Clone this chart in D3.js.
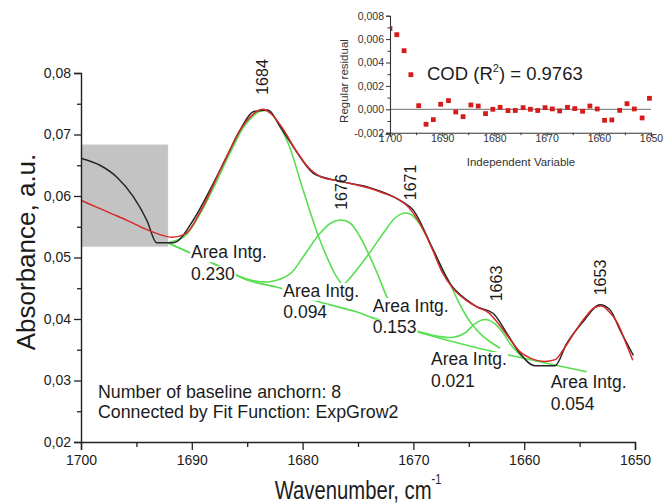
<!DOCTYPE html>
<html><head><meta charset="utf-8">
<script src="https://cdn.jsdelivr.net/npm/d3@7/dist/d3.min.js"></script>
<style>
body{margin:0;background:#fff;}
svg{display:block;font-family:"Liberation Sans",Arial,sans-serif;}
</style></head><body>
<svg id="chart" width="665" height="504"></svg>
<script>
// ---------- DATA ----------
// measured spectrum (black)
const measuredWn  = [1699.94,1698.29,1696.78,1695.28,1694.07,1693.17,1691.67,1689.86,1688.36,1686.85,1685.65,1684.45,1683.12,1682.04,1680.84,1679.03,1676.92,1674.21,1671.21,1670.01,1668.20,1666.70,1665.19,1664.29,1662.79,1661.58,1660.38,1659.03,1657.22,1656.17,1654.67,1653.16,1652.26,1651.35,1650.15];
const measuredAbs = [0.0661,0.0650,0.0631,0.0599,0.0561,0.0524,0.0524,0.0561,0.0610,0.0664,0.0707,0.0737,0.0740,0.0713,0.0680,0.0637,0.0625,0.0615,0.0593,0.0577,0.0512,0.0458,0.0431,0.0420,0.0409,0.0377,0.0344,0.0324,0.0324,0.0360,0.0396,0.0423,0.0415,0.0382,0.0341];
// cumulative fit (red)
const fitWn  = [1700.0,1698.6,1697.2,1695.8,1694.4,1693.0,1691.8,1690.6,1689.3,1688.0,1686.8,1685.6,1684.4,1683.6,1682.8,1681.8,1680.6,1679.4,1678.2,1676.8,1675.4,1674.0,1672.6,1671.4,1670.4,1669.4,1668.4,1667.4,1666.4,1665.2,1664.2,1663.2,1662.4,1661.4,1660.4,1659.4,1658.2,1657.2,1656.4,1655.4,1654.4,1653.6,1653.0,1652.4,1651.6,1650.8,1650.2];
const fitAbs = [0.0593,0.0582,0.0571,0.0560,0.0548,0.0538,0.0533,0.0538,0.0572,0.0620,0.0666,0.0708,0.0734,0.0741,0.0733,0.0710,0.0674,0.0645,0.0630,0.0625,0.0619,0.0613,0.0604,0.0595,0.0581,0.0555,0.0518,0.0476,0.0449,0.0430,0.0419,0.0410,0.0394,0.0370,0.0347,0.0336,0.0331,0.0334,0.0352,0.0380,0.0405,0.0419,0.0421,0.0413,0.0394,0.0360,0.0333];
// baseline (green)
const baselineWn  = [1692.15,1688.20,1685.02,1682.04,1679.06,1674.82,1673.92,1669.70,1663.84,1660.98,1654.36];
const baselineAbs = [0.05236,0.04915,0.04634,0.04504,0.04309,0.04098,0.04033,0.03793,0.03512,0.03398,0.03143];
// fitted component peaks (green)
const comp1684Wn  = [1692.15,1690.61,1689.26,1687.91,1686.55,1685.20,1683.84,1682.94,1681.43,1679.96,1678.43,1676.92,1676.02,1675.45];
const comp1684Abs = [0.05236,0.0535,0.0571,0.0618,0.0670,0.0715,0.0738,0.0736,0.0691,0.0610,0.0528,0.0468,0.0447,0.0440];
const comp1676Wn  = [1692.15,1688.20,1685.02,1682.94,1681.14,1679.94,1678.43,1677.44,1676.62,1675.72,1674.82,1674.21,1673.31,1672.41,1672.11];
const comp1676Abs = [0.05236,0.04915,0.04650,0.04606,0.04732,0.05013,0.05393,0.05561,0.05610,0.05561,0.05338,0.05122,0.04764,0.04363,0.04260];
const comp1671Wn  = [1679.06,1677.08,1675.88,1674.21,1672.72,1671.66,1670.91,1670.31,1669.70,1668.95,1668.20,1667.51,1666.70,1665.97,1665.19,1664.44,1663.69,1662.91,1662.18];
const comp1671Abs = [0.04309,0.04423,0.04634,0.05013,0.05393,0.05642,0.05719,0.05707,0.05610,0.05398,0.05122,0.04846,0.04580,0.04293,0.04037,0.03854,0.03712,0.03610,0.03524];
const comp1663Wn  = [1673.92,1669.70,1667.60,1666.40,1665.34,1664.59,1663.81,1663.24,1662.64,1661.91,1661.19,1660.20];
const comp1663Abs = [0.04033,0.03805,0.03715,0.03702,0.03772,0.03902,0.03984,0.03984,0.03919,0.03772,0.03577,0.03385];
// masked (excluded) region
const maskWn  = [1700, 1692.15];
const maskAbs = [0.05176, 0.06834];
// peak labels
const peakNames  = ["1684","1676","1671","1663","1653"];
const peakLabelWn  = [1683.12,1675.99,1669.77,1662.00,1652.62];
const peakLabelAbs = [0.07935,0.06065,0.06220,0.04577,0.04675];
// integrated areas
const areaTitle  = "Area Intg.";
const areaValues = ["0.230","0.094","0.153","0.021","0.054"];
const areaLabelWn  = [1690.07,1681.74,1673.67,1668.41,1657.61];
const areaLabelAbs = [0.04987,0.04363,0.04119,0.03244,0.02873];
// notes
const notes = ["Number of baseline anchorn: 8","Connected by Fit Function: ExpGrow2"];
// residuals (inset)
const residWn  = [1700.0,1698.7,1697.3,1696.0,1694.5,1693.1,1691.7,1690.3,1688.8,1687.4,1686.0,1684.5,1683.1,1681.7,1680.3,1678.9,1677.4,1676.0,1674.5,1673.1,1671.7,1670.3,1668.9,1667.5,1666.0,1664.6,1663.1,1661.7,1660.3,1658.9,1657.5,1656.0,1654.6,1653.2,1651.7,1650.3];
const residVal = [0.0069,0.00638,0.00501,0.00296,0.00031,-0.00128,-0.00088,0.00043,0.00074,-0.00023,-0.00063,0.00037,0.00028,-0.00037,0.0,0.00017,-0.00011,-0.00010,0.00014,0.0,-0.00010,0.00014,0.00003,-0.00014,0.00017,0.00006,-0.00017,0.00028,0.00003,-0.00094,-0.00091,-0.00009,0.00048,0.00003,-0.00074,0.00094];
const codText = "0.9763";
// ticks
const xTicks = [1700,1690,1680,1670,1660,1650];
const xMinor = [1695,1685,1675,1665,1655];
const yTicks = [0.02,0.03,0.04,0.05,0.06,0.07,0.08];
const yMinor = [0.025,0.035,0.045,0.055,0.065,0.075];
const insetYTicks = [-0.002,0,0.002,0.004,0.006,0.008];
const insetYMinor = [-0.001,0.001,0.003,0.005,0.007];

// ---------- DRAW ----------
const svg = d3.select("#chart");
const TXT = "#1c1c1c";
const x = d3.scaleLinear().domain([1700,1650]).range([81,635]);
const y = d3.scaleLinear().domain([0.02,0.08]).range([442,73]);
const pts = (a,b)=>a.map((v,i)=>[v,b[i]]);
const lineMono = d3.line().x(d=>x(d[0])).y(d=>y(d[1])).curve(d3.curveMonotoneX);
const lineSm  = d3.line().x(d=>x(d[0])).y(d=>y(d[1])).curve(d3.curveCatmullRom.alpha(0.5));

// masked region
svg.append("rect")
  .attr("x",x(maskWn[0])).attr("y",y(maskAbs[1]))
  .attr("width",x(maskWn[1])-x(maskWn[0])).attr("height",y(maskAbs[0])-y(maskAbs[1]))
  .attr("fill","#c3c3c3").attr("stroke","#d6d6d6").attr("stroke-dasharray","1,1");

// green components + baseline
const GREEN = "#58de50";
[pts(baselineWn,baselineAbs),pts(comp1684Wn,comp1684Abs),pts(comp1676Wn,comp1676Abs),
 pts(comp1671Wn,comp1671Abs),pts(comp1663Wn,comp1663Abs)].forEach(p=>{
  svg.append("path").attr("d",lineSm(p)).attr("fill","none")
    .attr("stroke",GREEN).attr("stroke-width",1.6);
});

// area labels (with white background)
areaValues.forEach((v,i)=>{
  const g = svg.append("g");
  const px = x(areaLabelWn[i]), py = y(areaLabelAbs[i]);
  [[areaTitle,py],[v,py+21.5]].forEach(([s,yy])=>{
    const t = g.append("text").attr("x",px).attr("y",yy).attr("font-size",17.5).attr("fill",TXT).text(s);
    const w = t.node().getComputedTextLength();
    g.insert("rect","text").attr("x",px-1).attr("y",yy-13.5).attr("width",w+2).attr("height",17.5).attr("fill","#fff");
  });
});

// measured + fit
svg.append("path").attr("d",lineMono(pts(measuredWn,measuredAbs))).attr("fill","none")
  .attr("stroke","#262626").attr("stroke-width",1.5).attr("stroke-linejoin","round");
svg.append("path").attr("d",lineMono(pts(fitWn,fitAbs)))
  .attr("fill","none").attr("stroke","#d42a2a").attr("stroke-width",1.5);

// peak labels
peakNames.forEach((n,i)=>{
  svg.append("text").attr("transform",`translate(${x(peakLabelWn[i])},${y(peakLabelAbs[i])}) rotate(-90)`)
    .attr("text-anchor","middle").attr("font-size",16).attr("fill",TXT).text(n);
});

// notes
notes.forEach((s,i)=>{
  svg.append("text").attr("x",98).attr("y",398+i*20).attr("font-size",17.8).attr("fill",TXT).text(s);
});

// axes
const fmtComma = v => (v<0?"-":"") + Math.abs(v).toFixed(2).replace(".",",");
const gx = svg.append("g").attr("transform","translate(0,442)")
  .call(d3.axisBottom(x).tickValues(xTicks).tickSize(8).tickPadding(5).tickFormat(d3.format("d")));
svg.append("g").attr("transform","translate(0,442)")
  .call(d3.axisBottom(x).tickValues(xMinor).tickSize(5).tickFormat("")).select(".domain").remove();
const gy = svg.append("g").attr("transform","translate(81,0)")
  .call(d3.axisLeft(y).tickValues(yTicks).tickSize(7).tickPadding(3).tickFormat(fmtComma));
svg.append("g").attr("transform","translate(81,0)")
  .call(d3.axisLeft(y).tickValues(yMinor).tickSize(4).tickFormat("")).select(".domain").remove();
svg.selectAll(".domain").attr("stroke","#222").attr("stroke-width",1.4);
svg.selectAll(".tick line").attr("stroke","#222").attr("stroke-width",1.3);
[gx,gy].forEach(g=>g.selectAll("text").attr("font-size",14).attr("fill",TXT).attr("font-family","Liberation Sans, Arial, sans-serif"));

// axis titles
const xt = svg.append("g").attr("transform","translate(358,499) scale(0.78,1)");
const tx = xt.append("text").attr("text-anchor","middle").attr("font-size",26).attr("fill",TXT);
tx.append("tspan").text("Wavenumber, cm");
tx.append("tspan").attr("dy",-15).attr("font-size",14).text("-1");
svg.append("text").attr("transform","translate(35,252) rotate(-90)").attr("text-anchor","middle")
  .attr("font-size",26).attr("fill",TXT).text("Absorbance, a.u.");

// ---------- INSET ----------
const xi = d3.scaleLinear().domain([1700,1650]).range([390,651]);
const yi = d3.scaleLinear().domain([-0.002,0.008]).range([132.7,15.7]);
const ins = svg.append("g");
ins.append("clipPath").attr("id","insclip").append("rect").attr("x",390).attr("y",10).attr("width",265).attr("height",124);
ins.append("line").attr("x1",xi(1700)).attr("x2",xi(1650)).attr("y1",yi(0)).attr("y2",yi(0))
  .attr("stroke","#8a8a8a").attr("stroke-width",1.3);
ins.append("g").attr("clip-path","url(#insclip)").selectAll("rect.pt").data(pts(residWn,residVal)).join("rect")
  .attr("x",d=>xi(d[0])-2.4).attr("y",d=>yi(d[1])-2.4).attr("width",4.8).attr("height",4.8).attr("fill","#d41c1c");
const fmt3 = v => (v<0?"-":"") + Math.abs(v).toFixed(3).replace(".",",");
const gxi = ins.append("g").attr("transform","translate(0,132.7)")
  .call(d3.axisBottom(xi).tickValues(xTicks).tickSize(4).tickPadding(-2).tickFormat(d3.format("d")));
ins.append("g").attr("transform","translate(0,132.7)")
  .call(d3.axisBottom(xi).tickValues(xMinor).tickSize(2.5).tickFormat("")).select(".domain").remove();
const gyi = ins.append("g").attr("transform","translate(390,0)")
  .call(d3.axisLeft(yi).tickValues(insetYTicks).tickSize(4).tickPadding(2).tickFormat(fmt3));
ins.append("g").attr("transform","translate(390,0)")
  .call(d3.axisLeft(yi).tickValues(insetYMinor).tickSize(2.5).tickFormat("")).select(".domain").remove();
ins.selectAll(".domain").attr("stroke","#333").attr("stroke-width",1.1);
ins.selectAll(".tick line").attr("stroke","#333").attr("stroke-width",1);
[gxi,gyi].forEach(g=>g.selectAll("text").attr("font-size",10.5).attr("fill","#333").attr("font-family","Liberation Sans, Arial, sans-serif"));
ins.append("text").attr("x",521).attr("y",165.7).attr("text-anchor","middle").attr("font-size",11.5).attr("fill","#333").text("Independent Variable");
ins.append("text").attr("transform","translate(348,81) rotate(-90)").attr("text-anchor","middle").attr("font-size",11.5).attr("fill","#333").text("Regular residual");
const cod = ins.append("text").attr("x",427).attr("y",80).attr("font-size",18.5).attr("fill",TXT);
cod.append("tspan").text("COD (R");
cod.append("tspan").attr("dy",-8).attr("font-size",11).text("2");
cod.append("tspan").attr("dy",8).text(") = " + codText);
</script>
</body></html>
